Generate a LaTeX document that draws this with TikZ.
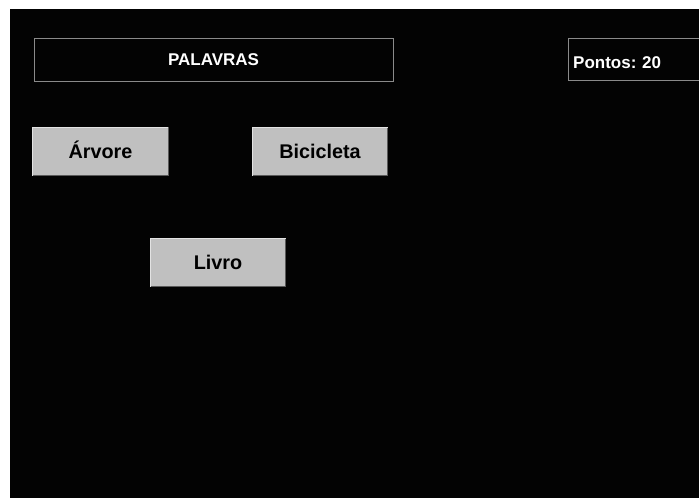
\documentclass[tikz,border=0pt]{standalone}
\usepackage{fontspec}
\setmainfont{Liberation Sans}
\definecolor{bg}{HTML}{030303}
\definecolor{btn}{HTML}{C0C0C0}
\definecolor{btnlight}{HTML}{E3E3E3}
\definecolor{btndark}{HTML}{5A5A5A}
\definecolor{frame}{HTML}{8A8A8A}
\begin{document}
\begin{tikzpicture}[x=1pt,y=-1pt,
  btnbox/.style={fill=btn,draw=none,minimum width=135pt,minimum height=48pt,inner sep=0pt,
    text height=14pt,text depth=0pt,
    font=\bfseries\fontsize{19.8}{21}\selectfont,text=black},
  headbox/.style={draw=frame,line width=1pt,inner sep=0pt,text=white,
    text height=11.5pt,text depth=0pt,
    font=\bfseries\fontsize{17}{19}\selectfont}]
\useasboundingbox (0,0) rectangle (699,498);
\fill[white] (0,0) rectangle (699,498);
\fill[bg] (10,9) rectangle (699,498);
% title box
\node[headbox,minimum width=359pt,minimum height=43pt] (title) at (213.5,59.5) {PALAVRAS};
% score box (runs off right edge)
\draw[frame,line width=1pt] (705,38.5) -- (568.5,38.5) -- (568.5,80.5) -- (705,80.5);
\node[anchor=base west,text=white,font=\bfseries\fontsize{17}{19}\selectfont,inner sep=0pt] (score) at (573,68) {Pontos:\hspace{-0.6pt} 20};
% buttons
\foreach \n/\cx/\cy/\t in {arvore/100.5/151.5/Árvore, bici/320/151.5/Bicicleta, livro/218/262.5/Livro}{
  \node[btnbox] (\n) at (\cx,\cy) {\t};
  \draw[btndark,line width=1.2pt] (\n.south west) -- (\n.south east) -- (\n.north east);
  \draw[btnlight,line width=1.2pt] (\n.south west) -- (\n.north west) -- (\n.north east);
}
\end{tikzpicture}
\end{document}
